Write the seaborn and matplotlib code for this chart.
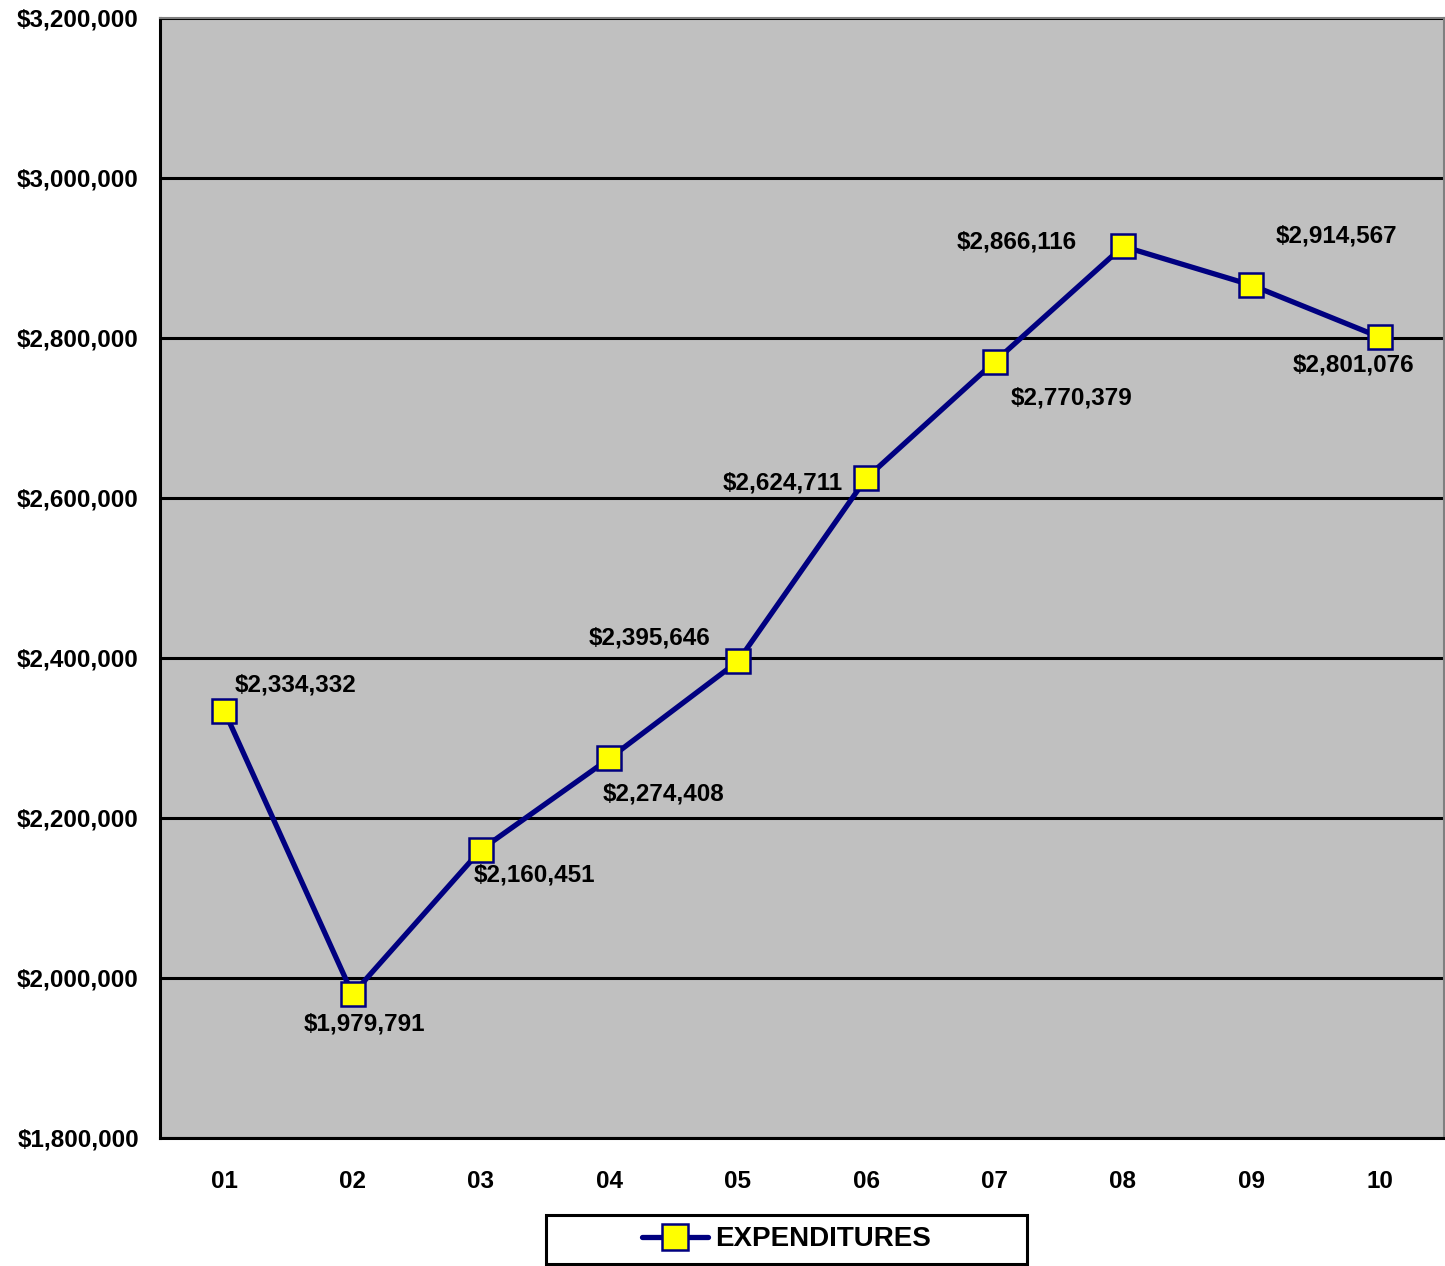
import numpy as np
import pandas as pd
import matplotlib
matplotlib.use("Agg")
import matplotlib.pyplot as plt
import seaborn as sns
from matplotlib.patches import Rectangle
from matplotlib.ticker import FuncFormatter, MultipleLocator, FixedLocator

# Annual expenditures by period
periods = ["01", "02", "03", "04", "05", "06", "07", "08", "09", "10"]
expenditures = [2334332, 1979791, 2160451, 2274408, 2395646,
                2624711, 2770379, 2914567, 2866116, 2801076]
series_name = "EXPENDITURES"

# Where each value label sits relative to its point (pixels)
label_offsets = [(71, 26), (12, -30), (53, -25), (54, -36), (-88, 23),
                 (-83, -5), (77, -36), (213, 10), (-235, 43), (-26, -28)]

sns.set_style("white")
plt.rcParams["font.family"] = ["Liberation Sans", "DejaVu Sans"]
plt.rcParams["font.weight"] = "bold"

W, H = 1445, 1266
FS = 17.5
fig = plt.figure(figsize=(W / 100, H / 100), dpi=100)
ax = fig.add_axes([160 / W, 128 / H, 1284 / W, 1120 / H])
ax.set_facecolor("#C0C0C0")

df = pd.DataFrame({"pos": np.arange(len(periods)), "period": periods,
                   "amount": expenditures})

navy = "#000080"
sns.lineplot(data=df, x="pos", y="amount", ax=ax, color=navy, lw=3.8,
             marker="s", markersize=17, markerfacecolor="#FFFF00",
             markeredgecolor=navy, markeredgewidth=1.8, label=series_name,
             zorder=3)

# Axis ranges and ticks
ax.set_xlim(-0.5, len(periods) - 0.5)
ax.set_ylim(1800000, 3200000)
ax.yaxis.set_major_locator(MultipleLocator(200000))
ax.yaxis.set_major_formatter(FuncFormatter(lambda v, _: f"${v:,.0f}"))
ax.set_xticks(df["pos"])
ax.set_xticklabels(periods)
ax.xaxis.set_minor_locator(FixedLocator(np.arange(-0.5, len(periods), 1.0)))
ax.tick_params(axis="x", which="major", length=0, pad=23,
               labelsize=FS, labelcolor="black")
ax.tick_params(axis="x", which="minor", length=7.2, width=1.8,
               direction="out", color="black")
ax.tick_params(axis="y", which="major", length=7.2, width=1.8,
               direction="out", color="black", pad=8, labelsize=FS,
               labelcolor="black")
for lbl in ax.get_xticklabels() + ax.get_yticklabels():
    lbl.set_fontweight("bold")
ax.set_xlabel("")
ax.set_ylabel("")

# Horizontal gridlines
ax.yaxis.grid(True, color="black", lw=2.2)
ax.xaxis.grid(False)
ax.set_axisbelow(True)

for side in ("left", "bottom"):
    ax.spines[side].set_color("black")
    ax.spines[side].set_linewidth(2.2)
for side in ("top", "right"):
    ax.spines[side].set_color("#808080")
    ax.spines[side].set_linewidth(1.5)

# Value labels
for x, y, (dx, dy) in zip(df["pos"], df["amount"], label_offsets):
    ax.annotate(f"${y:,.0f}", xy=(x, y), xytext=(dx, dy),
                textcoords="offset pixels", ha="center", va="center",
                fontsize=FS, fontweight="bold", color="black", zorder=4)

# Legend below the plot, inside a plain black box
leg = ax.legend(loc="center", bbox_to_anchor=(786.5 / W, 26.5 / H),
                bbox_transform=fig.transFigure, frameon=False,
                prop={"size": 20, "weight": "bold"}, labelcolor="black",
                handlelength=2.4, handletextpad=0.25, markerscale=1.1)
fig.add_artist(Rectangle((546 / W, 2 / H), 481 / W, 49 / H,
                         transform=fig.transFigure, fill=False,
                         edgecolor="black", lw=2.2))

fig.savefig("out.png", dpi=100)
